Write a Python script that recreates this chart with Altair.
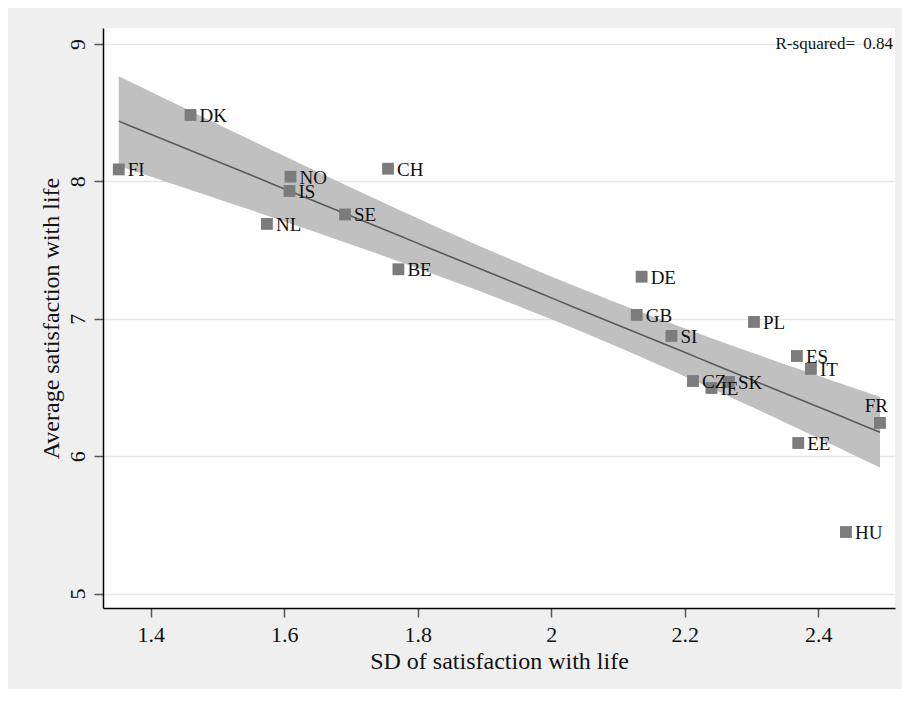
import altair as alt
import numpy as np
import pandas as pd

countries = ["FI", "DK", "NO", "IS", "NL", "SE", "CH", "BE", "DE", "GB",
             "SI", "PL", "ES", "IT", "CZ", "IE", "SK", "FR", "EE", "HU"]
sd_life = [1.352, 1.4595, 1.6093, 1.6078, 1.574, 1.691, 1.7554, 1.771, 2.1354, 2.128,
           2.180, 2.3037, 2.368, 2.389, 2.2123, 2.240, 2.2662, 2.4925, 2.370, 2.4415]
avg_life = [8.087, 8.483, 8.034, 7.930, 7.690, 7.759, 8.092, 7.360, 7.306, 7.028,
            6.875, 6.977, 6.729, 6.635, 6.547, 6.496, 6.540, 6.242, 6.096, 5.448]
r_squared_text = "0.84"

df = pd.DataFrame({"country": countries, "sd": sd_life, "avg": avg_life})

# OLS fit with 95% CI of the mean prediction (computed from the data)
x = np.array(sd_life)
y = np.array(avg_life)
n = len(x)
b1, b0 = np.polyfit(x, y, 1)
resid = y - (b0 + b1 * x)
s = np.sqrt(np.sum(resid ** 2) / (n - 2))
sxx = np.sum((x - x.mean()) ** 2)
t_crit = 2.1009  # t(0.975, df=18)
grid = np.linspace(x.min(), x.max(), 60)
fit = b0 + b1 * grid
se = s * np.sqrt(1.0 / n + (grid - x.mean()) ** 2 / sxx)
fit_df = pd.DataFrame({"sd": grid, "fit": fit, "lo": fit - t_crit * se, "hi": fit + t_crit * se})

FONT = "Liberation Serif, DejaVu Serif, serif"
xscale = alt.Scale(domain=[1.3284, 2.515], nice=False, zero=False)
yscale = alt.Scale(domain=[4.895, 9.116], nice=False, zero=False)

xaxis = alt.Axis(values=[1.4, 1.6, 1.8, 2.0, 2.2, 2.4], format=".1~f", grid=False,
                 title="SD of satisfaction with life", labelPadding=7, titlePadding=4,
                 labelFont=FONT, titleFont=FONT, labelFontSize=22, titleFontSize=24)
yaxis = alt.Axis(values=[5, 6, 7, 8, 9], format="d", grid=True, labelAngle=270,
                 labelAlign="center", labelBaseline="bottom", labelPadding=5,
                 title="Average satisfaction with life", titlePadding=3,
                 labelFont=FONT, titleFont=FONT, labelFontSize=22, titleFontSize=24)

X = alt.X("sd:Q", scale=xscale, axis=xaxis)
Y_avg = alt.Y("avg:Q", scale=yscale, axis=yaxis)

band = alt.Chart(fit_df).mark_area(color="#c0c0c0", opacity=1).encode(
    x=X,
    y=alt.Y("lo:Q", scale=yscale, axis=yaxis),
    y2="hi:Q",
)
line = alt.Chart(fit_df).mark_line(color="#5a5a5a", strokeWidth=1.6).encode(
    x=X,
    y=alt.Y("fit:Q", scale=yscale, axis=yaxis),
)
points = alt.Chart(df).mark_square(size=140, color="#7c7c7c", opacity=1).encode(
    x=X, y=Y_avg,
)
labels = alt.Chart(df).transform_filter(alt.datum.country != "FR").mark_text(
    align="left", baseline="middle", dx=9, dy=1,
    font=FONT, fontSize=19, color="#111111").encode(
    x=X, y=Y_avg, text="country:N",
)
# the label at the right edge is nudged up so that it is not cut off by the canvas edge
edge_label = alt.Chart(df).transform_filter(alt.datum.country == "FR").mark_text(
    align="right", baseline="bottom", dx=8, dy=-7,
    font=FONT, fontSize=19, color="#111111").encode(
    x=X, y=Y_avg, text="country:N",
)
rs_df = pd.DataFrame({"label": ["R-squared=", r_squared_text]})
rs_label = alt.Chart(rs_df).transform_filter(alt.datum.label == "R-squared=").mark_text(
    align="right", baseline="middle", font=FONT, fontSize=17, color="#111111").encode(
    x=alt.value(752), y=alt.value(16), text="label:N")
rs_value = alt.Chart(rs_df).transform_filter(alt.datum.label != "R-squared=").mark_text(
    align="right", baseline="middle", font=FONT, fontSize=17, color="#111111").encode(
    x=alt.value(790), y=alt.value(16), text="label:N")

chart = alt.layer(band, line, points, labels, edge_label, rs_label, rs_value).properties(
    width=792, height=580,
    background="#efefef",
    padding={"left": 95, "top": 20, "right": 7, "bottom": 81},
    autosize=alt.AutoSizeParams(type="none"),
).configure_view(
    fill="white", stroke=None
).configure_axis(
    labelFont=FONT, titleFont=FONT,
    labelColor="#111111", titleColor="#111111", titleFontWeight="normal",
    tickSize=9, tickColor="#555555", tickWidth=1.5,
    domainColor="#000000", domainWidth=1.5,
    gridColor="#e6e6e6", gridWidth=1.5,
).configure_text(font=FONT)

chart.save("out.html", embed_options={"renderer": "svg", "actions": False})
